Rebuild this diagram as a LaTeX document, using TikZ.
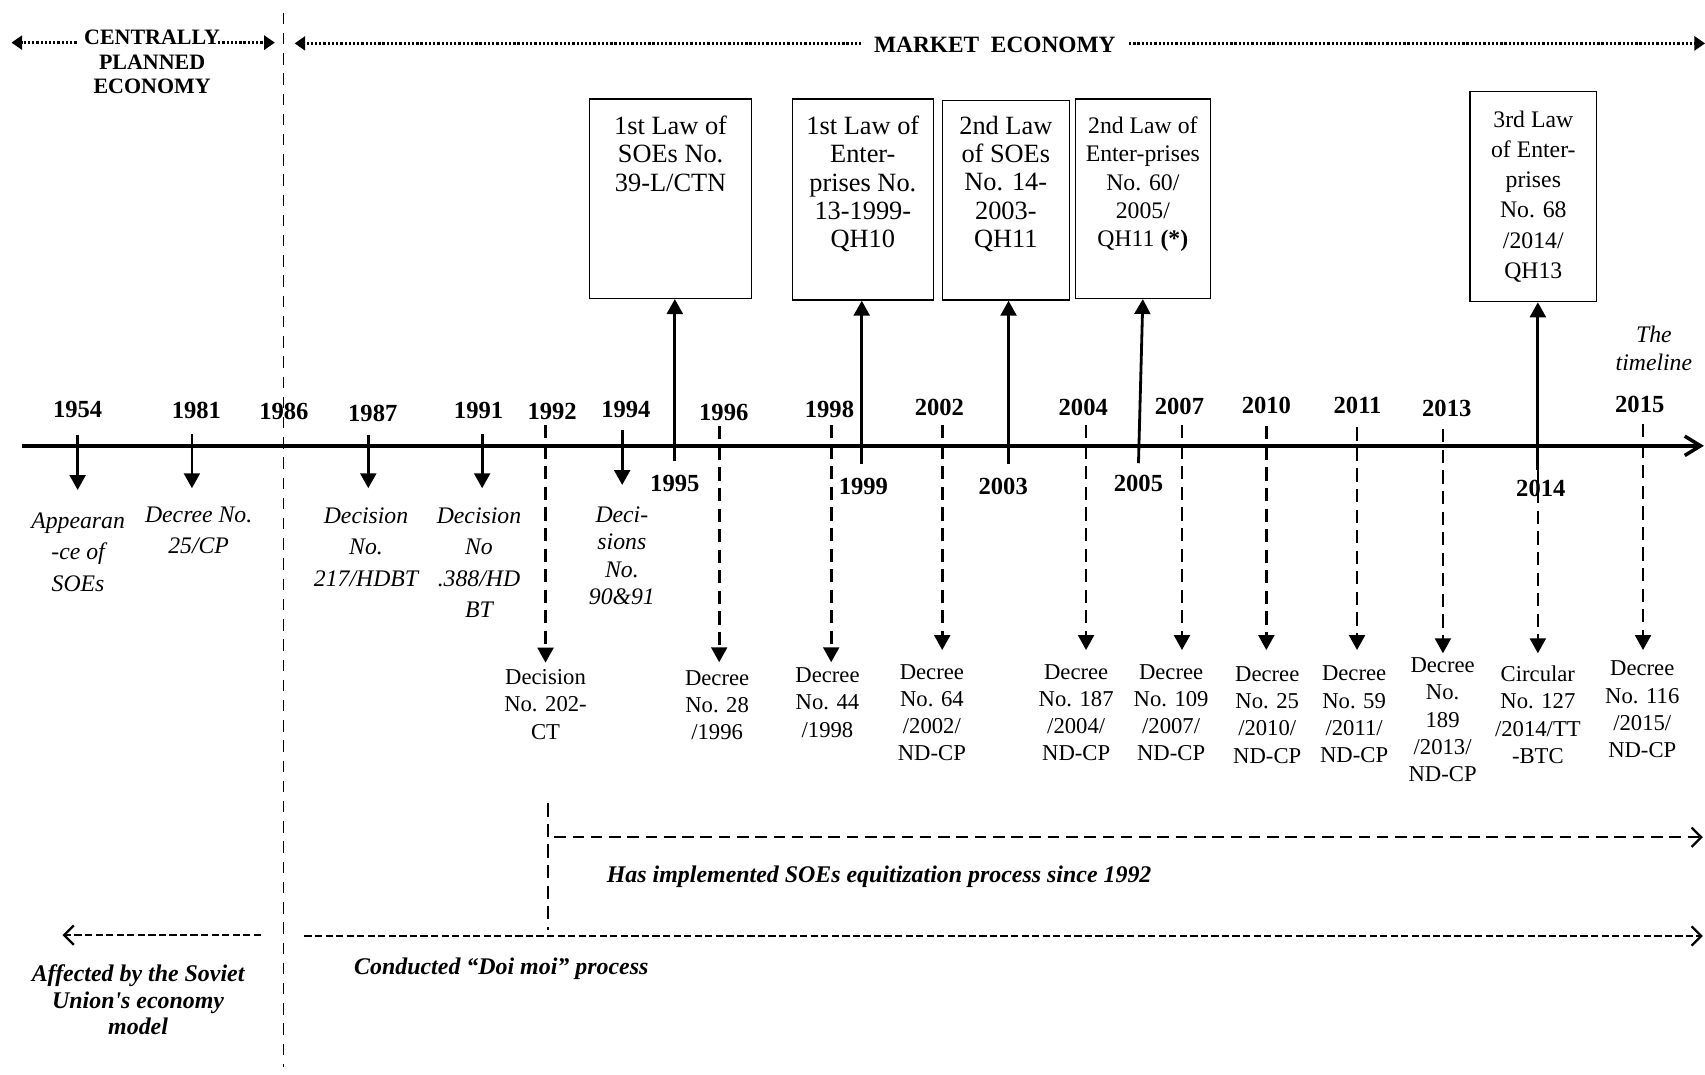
\documentclass[tikz,border=0pt]{standalone}
\usepackage{fontspec}
\setmainfont{Liberation Serif}
\usetikzlibrary{arrows.meta,positioning,fit}

\begin{document}
\begin{tikzpicture}[
  x=0.02175cm, y=-0.02175cm,
  year/.style={font=\fontsize{14}{16}\selectfont\bfseries, inner sep=0pt},
  ilbl/.style={font=\fontsize{13.5}{17.9}\selectfont\itshape, align=center, anchor=north, inner sep=0pt},
  dlbl/.style={font=\fontsize{12.9}{15.5}\selectfont, align=center, anchor=north, inner sep=0pt},
  law/.style={draw, line width=0.8pt, inner sep=0pt},
  lawtext/.style={font=\fontsize{15}{16.1}\selectfont, align=center, anchor=north, inner sep=0pt},
  era/.style={font=\fontsize{12.5}{13.8}\selectfont\bfseries, align=center, inner sep=0pt},
  note/.style={font=\fontsize{13.6}{15.1}\selectfont\bfseries\itshape, align=center, inner sep=0pt},
  timeaxis/.style={line width=2pt, -{Straight Barb[length=9pt,width=11pt]}},
  arr/.style={line width=1.6pt, -{Triangle[length=8.5pt,width=9pt]}},
  darr/.style={arr, line width=1.5pt, dash pattern=on 7.5pt off 4.2pt},
  sepline/.style={line width=1.1pt, dash pattern=on 6.5pt off 5pt},
  dotarr/.style={line width=1.3pt, dash pattern=on 1.3pt off 1.1pt, -{Triangle[length=6pt,width=8pt]}},
  spanarr/.style={line width=1.3pt, -{Straight Barb[length=5.5pt,width=11pt]}},
]
% one unit is 0.02175cm, y runs downwards
\useasboundingbox (0,0) rectangle (1568,988);

% --- Eras -------------------------------------------------------------------
\node[era, anchor=north] (cpe) at (139.9,27.6) {CENTRALLY\\PLANNED\\ECONOMY};
\coordinate (cpeL0) at (70.4,39.2);  \coordinate (cpeL1) at (10.6,39.2);
\coordinate (cpeR0) at (200.6,39.2); \coordinate (cpeR1) at (252.7,39.2);
\draw[dotarr] (cpeL0) -- (cpeL1);
\draw[dotarr] (cpeR0) -- (cpeR1);

\node[era, font=\fontsize{13.3}{15}\selectfont\bfseries] (mkt) at (914.9,41.4) {MARKET\ \ ECONOMY};
\coordinate (mktL0) at (792.2,39.9);  \coordinate (mktL1) at (271,39.9);
\coordinate (mktR0) at (1038.3,39.9); \coordinate (mktR1) at (1568,39.9);
\draw[dotarr] (mktL0) -- (mktL1);
\draw[dotarr] (mktR0) -- (mktR1);

\coordinate (sep0) at (260.7,11.7); \coordinate (sep1) at (260.7,981);
\draw[sepline] (sep0) -- (sep1);

% --- The axis and its years -------------------------------------------------
\coordinate (ax0) at (20.5,410); \coordinate (ax1) at (1567,410);
\draw[timeaxis] (ax0) -- (ax1);

\node[year] (y54) at (71.4,377) {1954};
\node[year] (y81) at (180.6,377) {1981};
\node[year] (y86) at (261.1,378.6) {1986};
\node[year] (y87) at (342.8,380.1) {1987};
\node[year] (y91) at (440.1,377.7) {1991};
\node[year] (y92) at (507.8,378.6) {1992};
\node[year] (y94) at (575.6,376.4) {1994};
\node[year] (y96) at (665.6,379.5) {1996};
\node[year] (y98) at (762.8,376.4) {1998};
\node[year] (y02) at (863.9,374.6) {2002};
\node[year] (y04) at (996.2,374.6) {2004};
\node[year] (y07) at (1084.7,374) {2007};
\node[year] (y10) at (1164.6,372.4) {2010};
\node[year] (y11) at (1248.5,372.4) {2011};
\node[year] (y13) at (1330.5,375.5) {2013};
\node[year] (y15) at (1508,371.8) {2015};
% years of the laws, under the axis
\node[year] (y95) at (620.6,444.5) {1995};
\node[year] (y99) at (794,447.5) {1999};
\node[year] (y03) at (922.6,447) {2003};
\node[year] (y05) at (1047,444.5) {2005};
\node[year] (y14) at (1417,449) {2014};

\node[font=\fontsize{13.5}{16}\selectfont\itshape, align=center] (tl) at (1521,320) {The\\timeline};

% --- Before equitization: solid drops with italic labels --------------------
\coordinate (s54) at (71.4,400);  \coordinate (t54) at (71.4,450.6);
\coordinate (s81) at (176.5,399); \coordinate (t81) at (176.5,449);
\coordinate (s87) at (338.7,400); \coordinate (t87) at (338.7,449);
\coordinate (s91) at (443.4,399); \coordinate (t91) at (443.4,449);
\coordinate (s94) at (572.2,395.5); \coordinate (t94) at (572.2,446);
\draw[arr] (s54) -- (t54);
\draw[arr] (s81) -- (t81);
\draw[arr] (s87) -- (t87);
\draw[arr] (s91) -- (t91);
\draw[arr] (s94) -- (t94);

\node[ilbl] (e54) at (71.8,471.2) {Appearan\\-ce of\\SOEs};
\node[ilbl] (e81) at (182.7,465.7) {Decree No.\\25/CP};
\node[ilbl] (e87) at (336.6,466.6) {Decision\\No.\\217/HDBT};
\node[ilbl] (e91) at (440.5,466.6) {Decision\\No\\.388/HD\\BT};
\node[ilbl, font=\fontsize{13.5}{15.6}\selectfont\itshape] (e94) at (571.9,465.7) {Deci-\\sions\\No.\\90\&91};

% --- Laws, above the axis ---------------------------------------------------
\node[law, fit={(542.1,91) (691.3,274.4)}] (law95) {};
\node[law, fit={(728.7,91) (858.3,275.9)}] (law99) {};
\node[law, fit={(866.6,92.6) (983.4,275.9)}] (law03) {};
\node[law, fit={(988.8,91) (1113.2,274.4)}] (law05) {};
\node[law, fit={(1351.9,84.3) (1468.3,277.4)}] (law14) {};

\node[lawtext] (law95t) at (616.7,106.3) {1st Law of\\SOEs No.\\39-L/CTN};
\node[lawtext] (law99t) at (793.5,106.3) {1st Law of\\Enter-\\prises No.\\13-1999-\\QH10};
\node[lawtext] (law03t) at (925,106.3) {2nd Law\\of SOEs\\No. 14-\\2003-\\QH11};
\node[lawtext, font=\fontsize{13.5}{16.1}\selectfont] (law05t) at (1051,107.1)
  {2nd Law of\\Enter-prises\\No. 60/\\2005/\\QH11 \textbf{(*)}};
\node[lawtext, font=\fontsize{13.5}{17.2}\selectfont] (law14t) at (1410.1,101.6)
  {3rd Law\\of Enter-\\prises\\No. 68\\/2014/\\QH13};

\coordinate (s95) at (620.6,423.6);
\coordinate (s99) at (792.5,426.7);
\coordinate (s03) at (927.5,426.7);
\coordinate (s05) at (1047,426);
\coordinate (s14) at (1414.3,432);
\draw[arr] (s95) -- (s95 |- law95.south);
\draw[arr] (s99) -- (s99 |- law99.south);
\draw[arr] (s03) -- (s03 |- law03.south);
\draw[arr] (s05) -- (law05.south);
\draw[arr] (s14) -- (s14 |- law14.south);

% --- Decrees since 1992: dashed drops -----------------------------------------
\coordinate (s92) at (501.7,391);  \coordinate (t92) at (501.7,609.4);
\coordinate (s96) at (661.4,392);  \coordinate (t96) at (661.4,609);
\coordinate (s98) at (764.4,391);  \coordinate (t98) at (764.4,609);
\coordinate (s02) at (866.5,391);  \coordinate (t02) at (866.5,597.8);
\coordinate (s04) at (998.8,391);  \coordinate (t04) at (998.8,597.8);
\coordinate (s07) at (1087,391);   \coordinate (t07) at (1087,597.8);
\coordinate (s10) at (1164.6,392); \coordinate (t10) at (1164.6,597.8);
\coordinate (s11) at (1248,393);   \coordinate (t11) at (1248,597.8);
\coordinate (s13) at (1327,394.8); \coordinate (t13) at (1327,600.8);
\coordinate (t14) at (1414.3,600.8);
\coordinate (s15) at (1511,390);   \coordinate (t15) at (1511,597.8);
\draw[darr] (s92) -- (t92);
\draw[darr] (s96) -- (t96);
\draw[darr] (s98) -- (t98);
\draw[darr] (s02) -- (t02);
\draw[darr] (s04) -- (t04);
\draw[darr] (s07) -- (t07);
\draw[darr] (s10) -- (t10);
\draw[darr] (s11) -- (t11);
\draw[darr] (s13) -- (t13);
\draw[darr] (s14) -- (t14);
\draw[darr] (s15) -- (t15);

\node[dlbl] (d92) at (501.7,615.4) {Decision\\No. 202-\\CT};
\node[dlbl] (d96) at (659.5,616.1) {Decree\\No. 28\\/1996};
\node[dlbl] (d98) at (761,613.7) {Decree\\No. 44\\/1998};
\node[dlbl] (d02) at (857,610.5) {Decree\\No. 64\\/2002/\\ND-CP};
\node[dlbl] (d04) at (989.7,610.5) {Decree\\No. 187\\/2004/\\ND-CP};
\node[dlbl] (d07) at (1077,610.5) {Decree\\No. 109\\/2007/\\ND-CP};
\node[dlbl] (d10) at (1165.4,612.7) {Decree\\No. 25\\/2010/\\ND-CP};
\node[dlbl] (d11) at (1245.3,612.1) {Decree\\No. 59\\/2011/\\ND-CP};
\node[dlbl] (d13) at (1326.7,604.5) {Decree\\No.\\189\\/2013/\\ND-CP};
\node[dlbl] (d14) at (1414.3,612.1) {Circular\\No. 127\\/2014/TT\\-BTC};
\node[dlbl] (d15) at (1510.3,607.5) {Decree\\No. 116\\/2015/\\ND-CP};

% --- Processes, at the bottom -----------------------------------------------
\coordinate (eqv0) at (504,738.8); \coordinate (eqv1) at (504,855.3);
\draw[line width=1.2pt, dash pattern=on 7.5pt off 4.2pt] (eqv0) -- (eqv1);
\coordinate (eq0) at (509.7,770); \coordinate (eq1) at (1566,770);
\draw[spanarr, dash pattern=on 6.6pt off 3.8pt] (eq0) -- (eq1);
\node[note] (eqz) at (808.5,806.2) {Has implemented SOEs equitization process since 1992};

\coordinate (dm0) at (280,860.8); \coordinate (dm1) at (1566,860.8);
\draw[spanarr, dash pattern=on 4.1pt off 1.9pt] (dm0) -- (dm1);
\node[note] (doimoi) at (461,890.5) {Conducted ``Doi moi'' process};

\coordinate (sv0) at (240,860); \coordinate (sv1) at (57.5,860);
\draw[spanarr, dash pattern=on 4.1pt off 1.9pt] (sv0) -- (sv1);
\node[note, anchor=north] (soviet) at (127,887.2) {Affected by the Soviet\\Union\textquotesingle s economy\\model};

\end{tikzpicture}
\end{document}
